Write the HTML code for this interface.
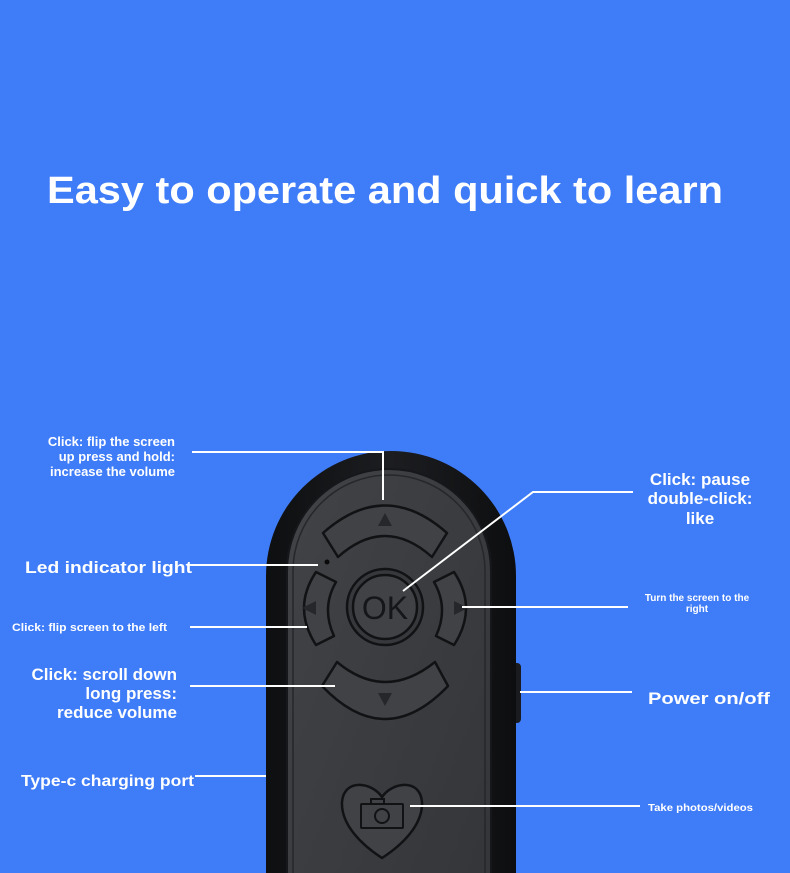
<!DOCTYPE html>
<html><head><meta charset="utf-8"><style>
html,body{margin:0;padding:0;background:#3f7cf8;width:790px;height:873px;overflow:hidden;}
svg{display:block;}
text{font-family:"Liberation Sans","DejaVu Sans",sans-serif;font-weight:bold;fill:#fff;}
</style></head><body>
<svg width="790" height="873" viewBox="0 0 790 873" xmlns="http://www.w3.org/2000/svg">
<defs>
<linearGradient id="body" x1="0" x2="1" y1="0" y2="0">
<stop offset="0" stop-color="#0e0f11"/><stop offset="0.5" stop-color="#1c1d20"/><stop offset="1" stop-color="#0d0e10"/>
</linearGradient>
<linearGradient id="face" x1="0" x2="1" y1="0" y2="1">
<stop offset="0" stop-color="#414347"/><stop offset="1" stop-color="#323438"/>
</linearGradient>
</defs>
<rect width="790" height="873" fill="#3f7cf8"/>
<text x="47" y="203" font-size="38" textLength="676" lengthAdjust="spacingAndGlyphs">Easy to operate and quick to learn</text>

<rect x="511" y="663" width="10" height="60" rx="4" fill="#1a1b1e"/>
<rect x="266" y="451" width="250" height="560" rx="125" fill="url(#body)"/>
<rect x="287" y="469" width="204" height="520" rx="102" fill="url(#face)" stroke="#16171a" stroke-width="2"/>
<rect x="293" y="475" width="192" height="510" rx="96" fill="none" stroke="#26272b" stroke-width="1.5"/>

<g fill="#404246" stroke="#111214" stroke-width="2.5" stroke-linejoin="round">
<path d="M323,533 Q385,478 447,533 L432,557 Q385,515 338,557 Z"/>
<path d="M337,662 Q385,702 435,662 L448,686 Q385,752 322,686 Z"/>
<path d="M316,572 Q292,608 316,645 L334,636 Q321,608 336,582 Z"/>
<path d="M454,572 Q478,608 454,645 L436,636 Q449,608 434,582 Z"/>
<circle cx="385" cy="607" r="38" fill="#36383c"/>
<circle cx="385" cy="607" r="32"/>
<path d="M382,797 C372,782 344,778 342,802 C341,825 362,845 382,858 C402,845 423,825 422,802 C420,778 392,782 382,797 Z"/>
</g>
<g fill="#26272a">
<path d="M385,513 L378,526 L392,526 Z"/>
<path d="M378,693 L392,693 L385,706 Z"/>
<path d="M302,608 L316,601 L316,615 Z"/>
<path d="M468,608 L454,601 L454,615 Z"/>
</g>
<circle cx="327" cy="562" r="2.5" fill="#0a0a0a"/>
<text x="385" y="619" font-size="32" text-anchor="middle" style="font-weight:normal;fill:#151619">OK</text>
<g fill="none" stroke="#111214" stroke-width="2">
<rect x="361" y="804" width="42" height="24" rx="1"/>
<rect x="371" y="799" width="13" height="5"/>
<circle cx="382" cy="816" r="7"/>
</g>

<g stroke="#fff" stroke-width="2" fill="none">
<path d="M192,452 H383 V500"/>
<path d="M190,565 H318"/>
<path d="M190,627 H307"/>
<path d="M190,686 H335"/>
<path d="M195,776 H266"/>
<path d="M403,591 L533,492 H633"/>
<path d="M462,607 H628"/>
<path d="M520,692 H632"/>
<path d="M410,806 H640"/>
</g>

<g font-size="13" text-anchor="end">
<text x="175" y="446">Click: flip the screen</text>
<text x="175" y="461">up press and hold:</text>
<text x="175" y="476">increase the volume</text>
</g>
<text x="25" y="573" font-size="17" textLength="167" lengthAdjust="spacingAndGlyphs">Led indicator light</text>
<text x="12" y="631" font-size="11" textLength="155" lengthAdjust="spacingAndGlyphs">Click: flip screen to the left</text>
<g font-size="17" text-anchor="end">
<text x="177" y="680">Click: scroll down</text>
<text x="177" y="699">long press:</text>
<text x="177" y="718">reduce volume</text>
</g>
<text x="21" y="786" font-size="16" textLength="173" lengthAdjust="spacingAndGlyphs">Type-c charging port</text>
<g font-size="17" text-anchor="middle">
<text x="700" y="485">Click: pause</text>
<text x="700" y="504">double-click:</text>
<text x="700" y="524">like</text>
</g>
<g font-size="10" text-anchor="middle">
<text x="697" y="601">Turn the screen to the</text>
<text x="697" y="612">right</text>
</g>
<text x="648" y="704" font-size="17" textLength="122" lengthAdjust="spacingAndGlyphs">Power on/off</text>
<text x="648" y="811" font-size="10" textLength="105" lengthAdjust="spacingAndGlyphs">Take photos/videos</text>
</svg>
</body></html>
